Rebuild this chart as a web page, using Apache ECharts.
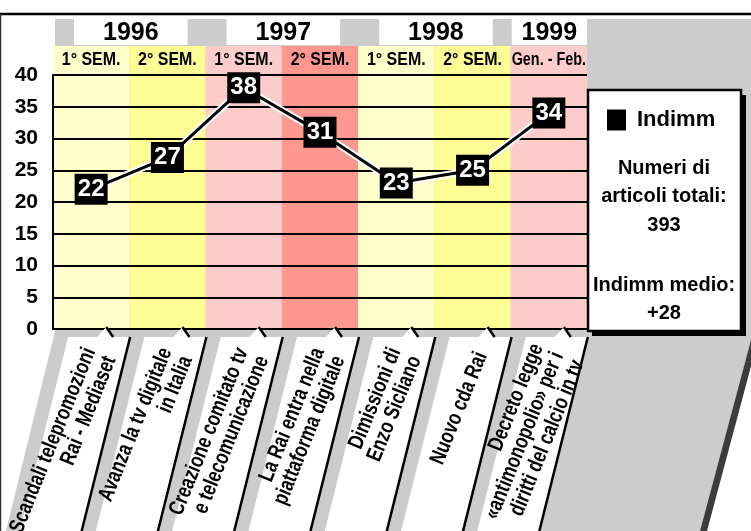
<!DOCTYPE html>
<html>
<head>
<meta charset="utf-8">
<title>Indimm 1996-1999</title>
<script src="https://cdn.jsdelivr.net/npm/echarts@6/dist/echarts.min.js"></script>
<style>
html,body{margin:0;padding:0;background:#fff;}
#main{width:751px;height:531px;}
</style>
</head>
<body>
<div id="main"></div>
<script>
// dati del grafico
var semesters = ['1° SEM.', '2° SEM.', '1° SEM.', '2° SEM.', '1° SEM.', '2° SEM.', 'Gen. - Feb.'];
var years = ['1996', '1997', '1998', '1999'];
var yearSpans = [2, 2, 2, 1];
var indimm = [22, 27, 38, 31, 23, 25, 34];
var events = [
	'Scandali telepromozioni\nRai - Mediaset',
	'Avanza la tv digitale\nin Italia',
	'Creazione comitato tv\ne telecomunicazione',
	'La Rai entra nella\npiattaforma digitale',
	'Dimissioni di\nEnzo Sicliano',
	'Nuovo cda Rai',
	'Decreto legge\n«antimonopolio» per i\ndiritti del calcio in tv'
];
var yMin = 0, yMax = 40, yStep = 5;
var totalArticles = 393;
var avgIndimm = '+28';

var bandColors = ['#FFFFCC', '#FEFC95', '#FFCCCC', '#FD978F', '#FFFFCC', '#FEFC95', '#FFCCCC'];
var BOLD = '"Liberation Sans", Arial, sans-serif';

// anni: [indice inizio, indice fine, numero semestri]
var yearData = [];
var k = 0;
for (var i = 0; i < years.length; i++) {
	yearData.push([k, k + yearSpans[i] - 1, yearSpans[i]]);
	k += yearSpans[i];
}
var catData = semesters.map(function (s, i) { return [i, 0]; });

var chart = echarts.init(document.getElementById('main'));
var option = {
	animation: false,
	backgroundColor: '#fff',
	grid: [
		{left: 53, top: 75, width: 534, height: 254},
		{left: 53, top: 46, width: 534, height: 29}
	],
	legend: {
		data: ['Indimm'],
		left: 607, top: 109, padding: 0,
		icon: 'rect', itemWidth: 19, itemHeight: 21,
		selectedMode: false, z: 30,
		textStyle: {fontFamily: BOLD, fontWeight: 'bold', fontSize: 22, color: '#000', padding: [0, 0, 0, 6]}
	},
	xAxis: [
		{
			type: 'category', gridIndex: 0, data: semesters, z: 0,
			axisLine: {lineStyle: {color: '#000', width: 2}},
			axisTick: {show: false}, axisLabel: {show: false},
			splitArea: {show: true, interval: 0, areaStyle: {color: bandColors}}
		},
		{
			type: 'category', gridIndex: 1, data: semesters, z: 0,
			axisLine: {show: false}, axisTick: {show: false}, axisLabel: {show: false},
			splitArea: {show: true, interval: 0, areaStyle: {color: bandColors}}
		}
	],
	yAxis: [
		{
			type: 'value', gridIndex: 0, min: yMin, max: yMax, interval: yStep, z: 1,
			axisLine: {show: true, lineStyle: {color: '#000', width: 2}},
			axisTick: {show: false},
			axisLabel: {margin: 15, fontFamily: BOLD, fontWeight: 'bold', fontSize: 21, color: '#000'},
			splitLine: {show: true, lineStyle: {color: '#000', width: 2}}
		},
		{type: 'value', gridIndex: 1, min: 0, max: 1, show: false}
	],
	series: [
		{
			name: 'bordo', type: 'line', data: indimm, silent: true,
			symbol: 'none', z: 3,
			lineStyle: {color: '#fff', width: 7}
		},
		{
			name: 'Indimm', type: 'line', data: indimm, z: 4,
			symbol: 'rect', symbolSize: [33, 31],
			itemStyle: {color: '#000'},
			lineStyle: {color: '#000', width: 3},
			label: {show: true, position: 'inside', color: '#fff', fontFamily: BOLD, fontWeight: 'bold', fontSize: 24}
		},
		{
			// etichette dei semestri (testo condensato)
			type: 'custom', xAxisIndex: 1, yAxisIndex: 1, data: catData, silent: true, z: 5,
			renderItem: function (params, api) {
				var p = api.coord([api.value(0), 0]);
				var last = params.dataIndex === semesters.length - 1;
				return {
					type: 'text', x: p[0], y: params.coordSys.y + 14, scaleX: last ? 0.8 : 0.84,
					style: {text: semesters[params.dataIndex], x: 0, y: 0, align: 'center', verticalAlign: 'middle',
						font: 'bold ' + (last ? 18 : 19) + 'px ' + BOLD, fill: '#000'}
				};
			}
		},
		{
			// riquadri degli anni sopra i semestri
			type: 'custom', xAxisIndex: 1, yAxisIndex: 1, data: yearData, silent: true,
			renderItem: function (params, api) {
				var a = api.coord([api.value(0), 0]);
				var b = api.coord([api.value(1), 0]);
				var bw = api.size([1, 0])[0];
				var span = api.value(2);
				var x0 = a[0] - bw / 2 + (span > 1 ? 21 : 1);
				var x1 = b[0] + bw / 2 - (span > 1 ? 18 : 0);
				var top = params.coordSys.y - 27;
				return {
					type: 'group',
					children: [
						{type: 'rect', shape: {x: x0, y: top, width: x1 - x0, height: 26}, style: {fill: '#fff'}},
						{type: 'text', style: {text: years[params.dataIndex], x: (x0 + x1) / 2, y: top + 14,
							align: 'center', verticalAlign: 'middle', font: 'bold 25px ' + BOLD, fill: '#000'}}
					]
				};
			}
		},
		{
			// etichette degli eventi sotto il grafico
			type: 'custom', xAxisIndex: 0, yAxisIndex: 0, data: catData, silent: true, clip: false,
			renderItem: function (params, api) {
				var p = api.coord([api.value(0), 0]);
				var cx = p[0], top = p[1] + 8;
				var h = 230, sl = 0.25;
				var l = cx - 23, r = cx + 39, tip = cx + 15;
				return {
					type: 'group',
					children: [
						{type: 'polygon', shape: {points: [[l, top], [tip - 9, top], [tip, top - 10], [tip + 7, top], [r, top], [r - sl * h, top + h], [l - sl * h, top + h]]},
							style: {fill: '#fff'}},
						{type: 'polyline', shape: {points: [[tip, top - 10], [tip + 7, top]]}, style: {stroke: '#000', lineWidth: 2.5, fill: null}},
						{type: 'polyline', shape: {points: [[r, top], [r - sl * h, top + h]]}, style: {stroke: '#000', lineWidth: 2.5, fill: null}},
						{type: 'text', x: cx + 9, y: top + 16, rotation: 68 * Math.PI / 180, scaleX: 0.78,
							style: {text: events[params.dataIndex], x: 0, y: 0, align: 'right', verticalAlign: 'middle',
								lineHeight: 22, font: 'bold 22px ' + BOLD, fill: '#000'}}
					]
				};
			}
		}
	],
	graphic: [
		// sfondo grigio
		{type: 'polygon', z: -100, shape: {points: [[55, 19], [751, 19], [751, 340], [700, 531], [6, 531], [55, 331]]}, style: {fill: '#CCCCCC'}},
		{type: 'polygon', z: -99, shape: {points: [[751, 340], [758, 340], [707, 531], [700, 531]]}, style: {fill: '#3C3C3C'}},
		{type: 'line', z: 5, shape: {x1: 0, y1: 14, x2: 751, y2: 14}, style: {stroke: '#000', lineWidth: 2.5}},
		{type: 'line', z: 5, shape: {x1: 0.5, y1: 14, x2: 0.5, y2: 531}, style: {stroke: '#333', lineWidth: 1.5}},
		// riquadro legenda
		{type: 'rect', z: 10, shape: {x: 592, y: 95, width: 154, height: 241}, style: {fill: '#000'}},
		{type: 'rect', z: 11, shape: {x: 588, y: 90, width: 153, height: 241}, style: {fill: '#fff', stroke: '#000', lineWidth: 2.5}},
		{type: 'text', z: 12, style: {text: 'Numeri di', x: 664, y: 168, align: 'center', verticalAlign: 'middle', font: 'bold 20px ' + BOLD, fill: '#000'}},
		{type: 'text', z: 12, style: {text: 'articoli totali:', x: 664, y: 196, align: 'center', verticalAlign: 'middle', font: 'bold 20px ' + BOLD, fill: '#000'}},
		{type: 'text', z: 12, style: {text: String(totalArticles), x: 664, y: 225, align: 'center', verticalAlign: 'middle', font: 'bold 20px ' + BOLD, fill: '#000'}},
		{type: 'text', z: 12, style: {text: 'Indimm medio:', x: 664, y: 285, align: 'center', verticalAlign: 'middle', font: 'bold 20px ' + BOLD, fill: '#000'}},
		{type: 'text', z: 12, style: {text: avgIndimm, x: 664, y: 313, align: 'center', verticalAlign: 'middle', font: 'bold 20px ' + BOLD, fill: '#000'}}
	]
};
chart.setOption(option);
</script>
</body>
</html>
